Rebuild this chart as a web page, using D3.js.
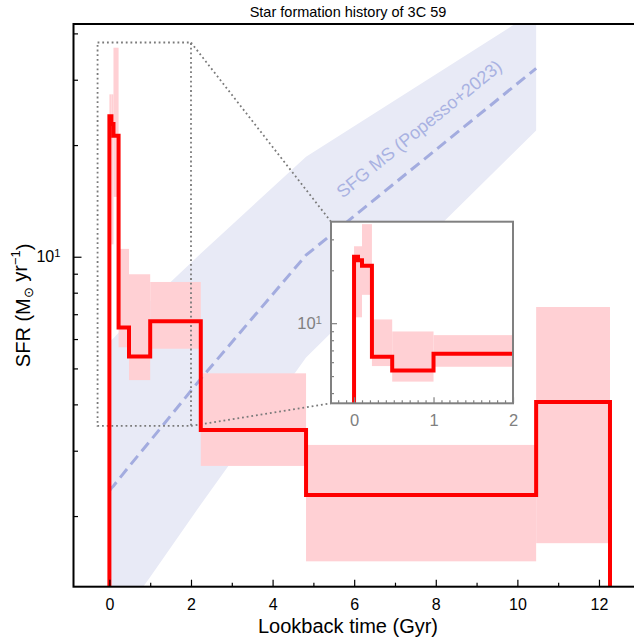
<!DOCTYPE html>
<html>
<head>
<meta charset="utf-8">
<script src="https://cdn.jsdelivr.net/npm/d3@7"></script>
<style>
  body { margin: 0; background: #fff; }
  svg { display: block; font-family: "Liberation Sans", Arial, Helvetica, sans-serif; }
</style>
</head>
<body>
<svg width="634" height="637"></svg>
<script>
// star formation history, bins in lookback time (Gyr)
var binEdges = [0, 0.05, 0.1, 0.225, 0.48, 1.0, 2.24, 4.82, 10.46, 12.27];
var sfrBest = [23.9, 22.8, 21.2, 6.45, 5.38, 6.7, 3.41, 2.28, 4.06];
var sfrLow = [10.8, 10.8, 14.5, 5.7, 4.65, 5.65, 2.73, 1.51, 1.69];
var sfrHigh = [27.4, 27.4, 36.6, 10.5, 8.97, 8.55, 4.85, 3.11, 7.32];

// SFG main sequence (Popesso+2023) evaluated at the bin edges
var msTime = [0, 0.05, 0.1, 0.225, 0.48, 1.0, 2.24, 4.82, 10.46];
var msMid = [2.34, 2.38, 2.41, 2.51, 2.72, 3.19, 4.69, 10.1, 32.2];
var msLow = [0.955, 0.973, 0.99, 1.04, 1.14, 1.37, 2.15, 5.35, 21.9];
var msHigh = [5.89, 5.96, 6.03, 6.24, 6.61, 7.59, 10.2, 18.6, 46.1];

// ticks
var xMajor = [0, 2, 4, 6, 8, 10, 12];
var xMinor = [1, 3, 5, 7, 9, 11];
var yMajor = [10];
var yMinor = [2, 3, 4, 5, 6, 7, 8, 9, 20, 30, 40];
var insetXMajor = [0, 1, 2];
var insetXMinor = [-0.2, -0.1, 0.1, 0.2, 0.3, 0.4, 0.5, 0.6, 0.7, 0.8, 0.9,
  1.1, 1.2, 1.3, 1.4, 1.5, 1.6, 1.7, 1.8, 1.9];
var insetYMajor = [10];
var insetYMinor = [4, 5, 6, 7, 8, 9, 20, 30];

var xLim = [-0.88, 12.92];
var yLim = [1.29, 42.4];
var insetXLim = [-0.29, 2.0];
var insetYLim = [3.5, 37.8];

var svg = d3.select("svg");

var pL = 73.5, pR = 636.5, pT = 24, pB = 586.7;
var inL = 331, inR = 513, inT = 221.7, inB = 403.3;

var x = d3.scaleLinear().domain(xLim).range([pL, pR]);
var y = d3.scaleLog().domain(yLim).range([pB, pT]);
var xi = d3.scaleLinear().domain(insetXLim).range([inL, inR]);
var yi = d3.scaleLog().domain(insetYLim).range([inB, inT]);

var defs = svg.append("defs");
defs.append("clipPath").attr("id", "clipMain")
  .append("rect").attr("x", pL).attr("y", pT)
  .attr("width", pR - pL).attr("height", pB - pT);
defs.append("clipPath").attr("id", "clipInset")
  .append("rect").attr("x", inL).attr("y", inT)
  .attr("width", inR - inL).attr("height", inB - inT);

var red = "#ff0000", pink = "#ffd0d4", grey = "#808080";
var fontFam = "Liberation Sans, Arial, sans-serif";

// step outline from the bins, closed down to the floor value
function stepPoints(floor) {
  var pts = [[binEdges[0], floor]];
  sfrBest.forEach(function(v, i) {
    pts.push([binEdges[i], v]);
    pts.push([binEdges[i + 1], v]);
  });
  pts.push([binEdges[binEdges.length - 1], floor]);
  return pts;
}

var bins = sfrBest.map(function(v, i) {
  return { x0: binEdges[i], x1: binEdges[i + 1], lo: sfrLow[i], hi: sfrHigh[i] };
});

var ms = msTime.map(function(t, i) {
  return { t: t, mid: msMid[i], lo: msLow[i], hi: msHigh[i] };
});

// ---- main panel ----
var plot = svg.append("g").attr("clip-path", "url(#clipMain)");

plot.append("path")
  .datum(ms)
  .attr("fill", "#e8eaf6")
  .attr("d", d3.area()
    .x(function(d) { return x(d.t); })
    .y0(function(d) { return y(d.lo); })
    .y1(function(d) { return y(d.hi); }));

plot.selectAll("rect.err")
  .data(bins)
  .enter()
  .append("rect")
  .attr("class", "err")
  .attr("x", function(d) { return x(d.x0); })
  .attr("width", function(d) { return x(d.x1) - x(d.x0); })
  .attr("y", function(d) { return y(d.hi); })
  .attr("height", function(d) { return y(d.lo) - y(d.hi); })
  .attr("fill", pink);

plot.append("path")
  .datum(ms)
  .attr("fill", "none")
  .attr("stroke", "#a3acdf")
  .attr("stroke-width", 3)
  .attr("stroke-dasharray", "11,6")
  .attr("d", d3.line()
    .x(function(d) { return x(d.t); })
    .y(function(d) { return y(d.mid); }));

svg.append("text")
  .attr("transform", "translate(420,130) rotate(-39)")
  .attr("text-anchor", "middle")
  .attr("dominant-baseline", "middle")
  .attr("fill", "#a9b2e2")
  .attr("font-size", 18)
  .text("SFG MS (Popesso+2023)");

// zoom indicator
var dotStroke = "#7a7a7a", dotW = 1.8, dotDash = "1.8,2.9";
svg.append("rect")
  .attr("x", x(insetXLim[0])).attr("y", y(insetYLim[1]))
  .attr("width", x(insetXLim[1]) - x(insetXLim[0]))
  .attr("height", y(insetYLim[0]) - y(insetYLim[1]))
  .attr("fill", "none")
  .attr("stroke", dotStroke).attr("stroke-width", dotW)
  .attr("stroke-dasharray", dotDash);
[[x(insetXLim[1]), y(insetYLim[1]), inL, inT],
 [x(insetXLim[1]), y(insetYLim[0]), inL, inB]].forEach(function(c) {
  svg.append("line")
    .attr("x1", c[0]).attr("y1", c[1]).attr("x2", c[2]).attr("y2", c[3])
    .attr("stroke", dotStroke).attr("stroke-width", dotW)
    .attr("stroke-dasharray", dotDash);
});

svg.append("g").attr("clip-path", "url(#clipMain)")
  .append("path")
  .attr("d", d3.line()
    .x(function(d) { return x(d[0]); })
    .y(function(d) { return y(d[1]); })(stepPoints(yLim[0] * 0.9)))
  .attr("fill", "none")
  .attr("stroke", red)
  .attr("stroke-width", 4);

// axes
var fs = 16;
var gx = svg.append("g").attr("transform", "translate(0," + pB + ")")
  .call(d3.axisBottom(x).tickValues(xMajor).tickSize(-7).tickPadding(12));
var gx2 = svg.append("g").attr("transform", "translate(0," + pB + ")")
  .call(d3.axisBottom(x).tickValues(xMinor).tickSize(-4).tickFormat(""));
var gy = svg.append("g").attr("transform", "translate(" + pL + ",0)")
  .call(d3.axisLeft(y).tickValues(yMajor).tickSize(-8).tickPadding(13).tickFormat(""));
var gy2 = svg.append("g").attr("transform", "translate(" + pL + ",0)")
  .call(d3.axisLeft(y).tickValues(yMinor).tickSize(-4.5).tickFormat(""));

[gx, gx2, gy, gy2].forEach(function(g) {
  g.select(".domain").remove();
  g.selectAll(".tick line").attr("stroke", "#000").attr("stroke-width", 1.2);
});
gx.selectAll("text").attr("font-size", fs).attr("fill", "#000").attr("font-family", fontFam);

gy.selectAll(".tick text").each(function() {
  var t = d3.select(this).attr("font-size", fs).attr("fill", "#000").attr("font-family", fontFam);
  t.append("tspan").text("10");
  t.append("tspan").attr("dy", "-0.45em").attr("font-size", fs * 0.7).text("1");
});

svg.append("rect")
  .attr("x", pL).attr("y", pT)
  .attr("width", pR - pL).attr("height", pB - pT)
  .attr("fill", "none").attr("stroke", "#000").attr("stroke-width", 2);

svg.append("text")
  .attr("x", 348).attr("y", 17)
  .attr("text-anchor", "middle").attr("font-size", 14.5)
  .text("Star formation history of 3C 59");

svg.append("text")
  .attr("x", 348).attr("y", 633)
  .attr("text-anchor", "middle").attr("font-size", 20)
  .text("Lookback time (Gyr)");

var ylab = svg.append("text")
  .attr("transform", "translate(29.5," + (pT + pB) / 2 + ") rotate(-90)")
  .attr("text-anchor", "middle").attr("font-size", 20);
ylab.append("tspan").text("SFR (M");
ylab.append("tspan").attr("dy", "0.3em").attr("font-size", 13).text("\u2299");
ylab.append("tspan").attr("dy", "-0.3em").text(" yr");
ylab.append("tspan").attr("dy", "-0.55em").attr("font-size", 13).text("\u22121");
ylab.append("tspan").attr("dy", "0.55em").text(")");

// ---- inset ----
svg.append("rect")
  .attr("x", inL).attr("y", inT).attr("width", inR - inL).attr("height", inB - inT)
  .attr("fill", "#fff");

var inset = svg.append("g").attr("clip-path", "url(#clipInset)");
inset.selectAll("rect")
  .data(bins)
  .enter()
  .append("rect")
  .attr("x", function(d) { return xi(d.x0); })
  .attr("width", function(d) { return xi(d.x1) - xi(d.x0); })
  .attr("y", function(d) { return yi(d.hi); })
  .attr("height", function(d) { return yi(d.lo) - yi(d.hi); })
  .attr("fill", pink);

inset.append("path")
  .attr("d", d3.line()
    .x(function(d) { return xi(d[0]); })
    .y(function(d) { return yi(d[1]); })(stepPoints(insetYLim[0] * 0.9)))
  .attr("fill", "none")
  .attr("stroke", red)
  .attr("stroke-width", 4);

var ixg = svg.append("g").attr("transform", "translate(0," + inB + ")")
  .call(d3.axisBottom(xi).tickValues(insetXMajor).tickSize(-6).tickPadding(11)
    .tickFormat(d3.format("d")));
var ixg2 = svg.append("g").attr("transform", "translate(0," + inB + ")")
  .call(d3.axisBottom(xi).tickValues(insetXMinor).tickSize(-3).tickFormat(""));
var iyg = svg.append("g").attr("transform", "translate(" + inL + ",0)")
  .call(d3.axisLeft(yi).tickValues(insetYMajor).tickSize(-6).tickPadding(9).tickFormat(""));
var iyg2 = svg.append("g").attr("transform", "translate(" + inL + ",0)")
  .call(d3.axisLeft(yi).tickValues(insetYMinor).tickSize(-3).tickFormat(""));

[ixg, ixg2, iyg, iyg2].forEach(function(g) {
  g.select(".domain").remove();
  g.selectAll(".tick line").attr("stroke", grey).attr("stroke-width", 1.2);
});

ixg.selectAll("text").attr("font-size", 16.5).attr("fill", grey).attr("font-family", fontFam);
iyg.selectAll(".tick text").each(function() {
  var t = d3.select(this).attr("font-size", 16.5).attr("fill", grey).attr("font-family", fontFam);
  t.append("tspan").text("10");
  t.append("tspan").attr("dy", "-0.45em").attr("font-size", 16.5 * 0.7).text("1");
});

svg.append("rect")
  .attr("x", inL).attr("y", inT).attr("width", inR - inL).attr("height", inB - inT)
  .attr("fill", "none").attr("stroke", grey).attr("stroke-width", 2);
</script>
</body>
</html>
